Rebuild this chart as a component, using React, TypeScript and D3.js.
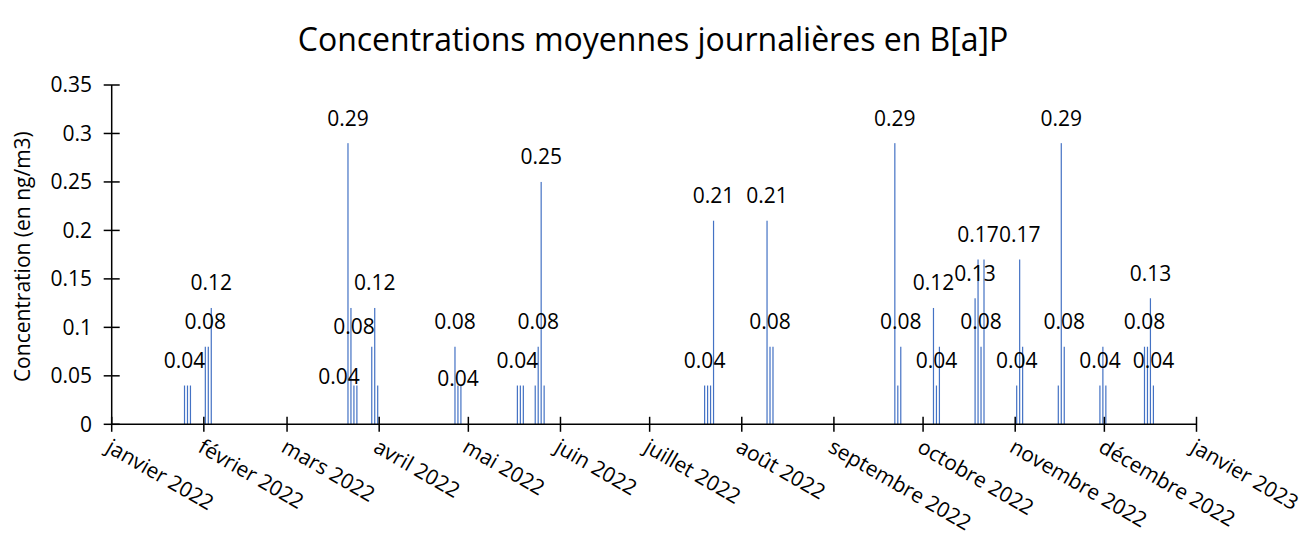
import { useEffect, useRef } from "react";
import * as d3 from "d3";

// daily B[a]P concentrations (ng/m3), one entry per sampled day
const dates = [
  "2022-01-25", "2022-01-26", "2022-01-27", "2022-02-01", "2022-02-02", "2022-02-03",
  "2022-03-21", "2022-03-22", "2022-03-23", "2022-03-24", "2022-03-29", "2022-03-30", "2022-03-31",
  "2022-04-26", "2022-04-27", "2022-04-28",
  "2022-05-17", "2022-05-18", "2022-05-19", "2022-05-23", "2022-05-24", "2022-05-25", "2022-05-26",
  "2022-07-19", "2022-07-20", "2022-07-21", "2022-07-22",
  "2022-08-09", "2022-08-10", "2022-08-11",
  "2022-09-21", "2022-09-22", "2022-09-23",
  "2022-10-04", "2022-10-05", "2022-10-06",
  "2022-10-18", "2022-10-19", "2022-10-20", "2022-10-21",
  "2022-11-01", "2022-11-02", "2022-11-03",
  "2022-11-15", "2022-11-16", "2022-11-17",
  "2022-11-29", "2022-11-30", "2022-12-01",
  "2022-12-14", "2022-12-15", "2022-12-16", "2022-12-17",
];
const values = [
  0.04, 0.04, 0.04, 0.08, 0.08, 0.12,
  0.29, 0.12, 0.04, 0.04, 0.08, 0.12, 0.04,
  0.08, 0.04, 0.04,
  0.04, 0.04, 0.04, 0.04, 0.08, 0.25, 0.04,
  0.04, 0.04, 0.04, 0.21,
  0.21, 0.08, 0.08,
  0.29, 0.04, 0.08,
  0.12, 0.04, 0.08,
  0.13, 0.17, 0.08, 0.17,
  0.04, 0.17, 0.08,
  0.04, 0.29, 0.08,
  0.04, 0.08, 0.04,
  0.08, 0.08, 0.13, 0.04,
];

// data labels that are shown: [anchor date, value, level the label sits on]
const labels: [string, number, number][] = [
  ["2022-01-25", 0.04, 0.04], ["2022-02-01", 0.08, 0.08], ["2022-02-03", 0.12, 0.12],
  ["2022-03-21", 0.29, 0.29], ["2022-03-30", 0.12, 0.12], ["2022-03-23", 0.08, 0.075], ["2022-03-18", 0.04, 0.023],
  ["2022-04-26", 0.08, 0.08], ["2022-04-27", 0.04, 0.021],
  ["2022-05-17", 0.04, 0.04], ["2022-05-24", 0.08, 0.08], ["2022-05-25", 0.25, 0.25],
  ["2022-07-19", 0.04, 0.04], ["2022-07-22", 0.21, 0.21], ["2022-08-09", 0.21, 0.21], ["2022-08-10", 0.08, 0.08],
  ["2022-09-21", 0.29, 0.29], ["2022-09-23", 0.08, 0.08], ["2022-10-04", 0.12, 0.12], ["2022-10-05", 0.04, 0.04],
  ["2022-10-18", 0.13, 0.13], ["2022-10-19", 0.17, 0.17], ["2022-10-20", 0.08, 0.08],
  ["2022-11-01", 0.04, 0.04], ["2022-11-02", 0.17, 0.17],
  ["2022-11-16", 0.29, 0.29], ["2022-11-17", 0.08, 0.08],
  ["2022-11-29", 0.04, 0.04], ["2022-12-14", 0.08, 0.08], ["2022-12-16", 0.13, 0.13], ["2022-12-17", 0.04, 0.04],
];

const yTicks = [0, 0.05, 0.1, 0.15, 0.2, 0.25, 0.3, 0.35];
const monthNames = ["janvier", "février", "mars", "avril", "mai", "juin", "juillet", "août",
  "septembre", "octobre", "novembre", "décembre"];

const App = () => {
  const ref = useRef<SVGSVGElement>(null);

  useEffect(() => {
    const svg = d3.select(ref.current);
    svg.selectAll("*").remove();
    const font = "'Open Sans', sans-serif";
    const parse = d3.utcParse("%Y-%m-%d");
    const halfDay = 12 * 3600 * 1000;

    const x = d3.scaleUtc()
      .domain([new Date(Date.UTC(2022, 0, 1)), new Date(Date.UTC(2023, 0, 1))])
      .range([111.7, 1196.5]);
    const y = d3.scaleLinear().domain([0, 0.35]).range([424.3, 85]);
    const xc = (s: string) => x(new Date(parse(s)!.getTime() + halfDay));

    // title
    svg.append("text")
      .attr("x", 653).attr("y", 40)
      .attr("text-anchor", "middle").attr("dy", "0.35em")
      .attr("font-family", font).attr("font-size", 32)
      .text("Concentrations moyennes journalières en B[a]P");

    // bars
    const data = dates.map((d, i) => ({ d, v: values[i] }));
    svg.append("g").selectAll("rect").data(data).join("rect")
      .attr("x", (p) => xc(p.d) - 0.6)
      .attr("width", 1.2)
      .attr("y", (p) => y(p.v))
      .attr("height", (p) => y(0) - y(p.v))
      .attr("fill", "#4472C4");

    // y axis
    const gy = svg.append("g");
    gy.append("line").attr("x1", x.range()[0]).attr("x2", x.range()[0])
      .attr("y1", y(0.35)).attr("y2", y(0)).attr("stroke", "#000").attr("stroke-width", 1.5);
    yTicks.forEach((t) => {
      gy.append("line").attr("x1", x.range()[0] - 8).attr("x2", x.range()[0] + 8)
        .attr("y1", y(t)).attr("y2", y(t)).attr("stroke", "#000").attr("stroke-width", 1.5);
      gy.append("text").attr("x", 92).attr("y", y(t)).attr("dy", "0.35em")
        .attr("text-anchor", "end").attr("font-family", font).attr("font-size", 21)
        .text(String(t));
    });
    svg.append("text")
      .attr("transform", `translate(23,${(y(0) + y(0.35)) / 2 + 2}) rotate(-90)`)
      .attr("text-anchor", "middle").attr("dy", "0.35em")
      .attr("font-family", font).attr("font-size", 21)
      .text("Concentration (en ng/m3)");

    // x axis
    const gx = svg.append("g");
    gx.append("line").attr("x1", x.range()[0]).attr("x2", x.range()[1])
      .attr("y1", y(0)).attr("y2", y(0)).attr("stroke", "#000").attr("stroke-width", 1.5);
    const months = d3.utcMonth.range(x.domain()[0], d3.utcMonth.offset(x.domain()[1], 1));
    months.forEach((m) => {
      const px = x(m);
      gx.append("line").attr("x1", px).attr("x2", px).attr("y1", y(0) - 7.5).attr("y2", y(0) + 7.5)
        .attr("stroke", "#000").attr("stroke-width", 1.5);
      gx.append("text")
        .attr("transform", `translate(${px - 7},451) rotate(30)`)
        .attr("font-family", font).attr("font-size", 21)
        .text(`${monthNames[m.getUTCMonth()]} ${m.getUTCFullYear()}`);
    });

    // data labels
    svg.append("g").selectAll("text").data(labels).join("text")
      .attr("x", (l) => xc(l[0]))
      .attr("y", (l) => y(l[2]) - 25)
      .attr("dy", "0.35em")
      .attr("text-anchor", "middle")
      .attr("font-family", font).attr("font-size", 21)
      .text((l) => String(l[1]));
  }, []);

  return (
    <svg ref={ref} width={1306} height={539}
      style={{ position: "absolute", left: 0, top: 0, background: "#fff" }} />
  );
};

export default App;
